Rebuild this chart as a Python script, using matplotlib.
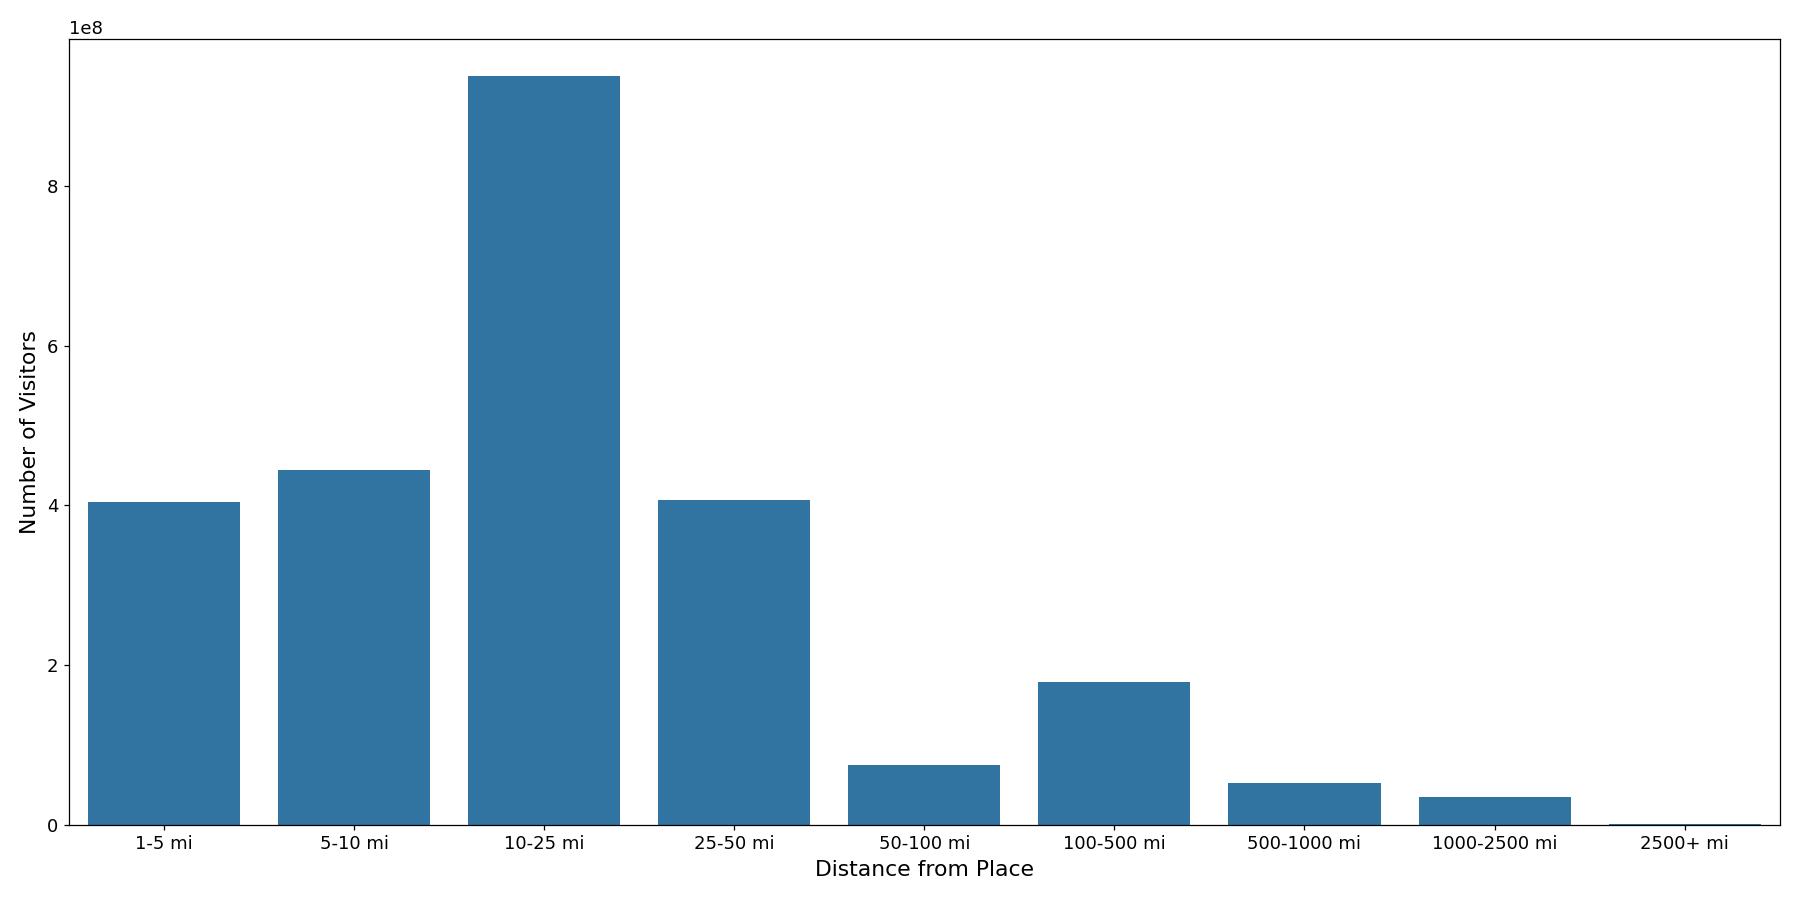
import matplotlib
matplotlib.use("Agg")
import matplotlib.pyplot as plt
import seaborn as sns

distances = ['1-5 mi', '5-10 mi', '10-25 mi', '25-50 mi', '50-100 mi',
             '100-500 mi', '500-1000 mi', '1000-2500 mi', '2500+ mi']
visitors = [4.04e8, 4.45e8, 9.38e8, 4.07e8, 0.74e8, 1.79e8, 0.52e8, 0.35e8, 0.003e8]

fig, ax = plt.subplots(figsize=(16, 8), dpi=112.5)
sns.barplot(x=distances, y=visitors, ax=ax, color='#1f77b4')
ax.set_xlabel('Distance from Place', fontsize=14)
ax.set_ylabel('Number of Visitors', fontsize=14)
ax.tick_params(labelsize=11.5)
ax.yaxis.get_offset_text().set_fontsize(11.5)

plt.tight_layout(pad=1.3)
plt.savefig('out.png')
